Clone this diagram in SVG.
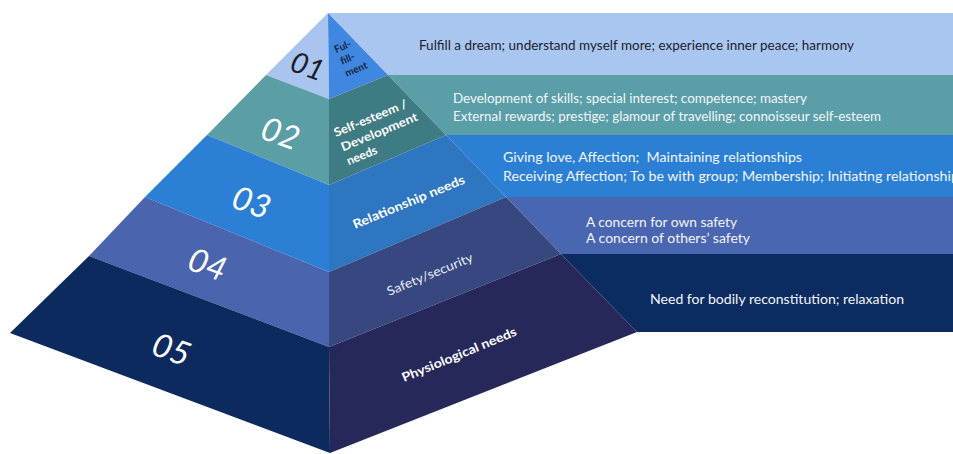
<svg xmlns="http://www.w3.org/2000/svg" width="953" height="454" viewBox="0 0 953 454">
<style>
  .num { font-family: Lato, "Open Sans", sans-serif; font-style: italic; font-weight: 400; text-anchor: middle; dominant-baseline: central; }
  .lbl { font-family: Lato, "Open Sans", sans-serif; font-weight: 700; fill: #ffffff; }
  .lblr { font-family: Lato, "Open Sans", sans-serif; font-weight: 400; fill: #e8ecf6; }
  .ban { font-family: Lato, "Open Sans", sans-serif; font-size: 13px; fill: #f2f5fa; }
  .dark { fill: #1b1d2b; }
</style>
<rect width="953" height="454" fill="#ffffff"/>

<g id="level1">
  <polygon points="328,13 953,13 953,75 388,75" fill="#a9c6f1"/>
  <polygon points="328,13 266,75 329,99" fill="#a9c5ef"/>
  <polygon points="328,13 388,75 329,99" fill="#3f87e0"/>
  <text class="num dark" font-size="29" transform="translate(308,65) rotate(20)">01</text>
  <g transform="translate(336,53) rotate(-22.5)" font-family="Lato, 'Open Sans', sans-serif" font-weight="700" font-size="10" fill="#1a2440">
    <text x="0" y="0">Ful-</text>
    <text x="1" y="13">fill-</text>
    <text x="1" y="26">ment</text>
  </g>
  <text class="ban dark" x="419" y="50" textLength="435" lengthAdjust="spacingAndGlyphs">Fulfill a dream; understand myself more; experience inner peace; harmony</text>
</g>

<g id="level2">
  <polygon points="388,75 953,75 953,135 446,135" fill="#5a9fa8"/>
  <polygon points="266,75 207,135 329,185 329,99" fill="#5b9ea6"/>
  <polygon points="388,75 446,135 329,185 329,99" fill="#3e7b82"/>
  <text class="num" fill="#ffffff" font-size="33" transform="translate(281,132) rotate(20)">02</text>
  <g transform="translate(336,137) rotate(-22.5)" class="lbl" font-size="12">
    <text x="0" y="0" textLength="78" lengthAdjust="spacingAndGlyphs">Self-esteem /</text>
    <text x="1" y="16" textLength="82" lengthAdjust="spacingAndGlyphs">Development</text>
    <text x="1" y="31">needs</text>
  </g>
  <text class="ban" x="453" y="103" textLength="354" lengthAdjust="spacingAndGlyphs">Development of skills; special interest; competence; mastery</text>
  <text class="ban" x="453" y="121" textLength="428" lengthAdjust="spacingAndGlyphs">External rewards; prestige; glamour of travelling; connoisseur self-esteem</text>
</g>

<g id="level3">
  <polygon points="446,135 953,135 953,197 506,197" fill="#2b80d6"/>
  <polygon points="207,135 145,197 329,272 329,185" fill="#2b7fd5"/>
  <polygon points="446,135 506,197 329,272 329,185" fill="#2e76bf"/>
  <text class="num" fill="#ffffff" font-size="33" transform="translate(252,201) rotate(20)">03</text>
  <text class="lbl" font-size="12.5" transform="translate(355,229) rotate(-22.5)" textLength="120" lengthAdjust="spacingAndGlyphs">Relationship needs</text>
  <text class="ban" x="503" y="162" textLength="299" lengthAdjust="spacingAndGlyphs" xml:space="preserve">Giving love, Affection;  Maintaining relationships</text>
  <text class="ban" x="503" y="181" textLength="462" lengthAdjust="spacingAndGlyphs">Receiving Affection; To be with group; Membership; Initiating relationships</text>
</g>

<g id="level4">
  <polygon points="506,197 953,197 953,254 561,254" fill="#4b66b0"/>
  <polygon points="145,197 89,256 329,347 329,272" fill="#4b64ae"/>
  <polygon points="506,197 561,254 329,347 329,272" fill="#36487f"/>
  <text class="num" fill="#ffffff" font-size="33" transform="translate(208,263) rotate(20)">04</text>
  <text class="lblr" font-size="12.5" transform="translate(389,296) rotate(-22.5)" textLength="92" lengthAdjust="spacingAndGlyphs">Safety/security</text>
  <text class="ban" x="586" y="227" textLength="151" lengthAdjust="spacingAndGlyphs">A concern for own safety</text>
  <text class="ban" x="586" y="243" textLength="164" lengthAdjust="spacingAndGlyphs">A concern of others’ safety</text>
</g>

<g id="level5">
  <polygon points="561,254 953,254 953,332 637,332" fill="#0c2c61"/>
  <polygon points="89,256 10,333 330,453 329,347" fill="#0c2a5e"/>
  <polygon points="561,254 637,332 330,453 329,347" fill="#27285a"/>
  <text class="num" fill="#ffffff" font-size="33" transform="translate(172,348) rotate(20)">05</text>
  <text class="lbl" font-size="12.5" transform="translate(404,382) rotate(-22.5)" textLength="123" lengthAdjust="spacingAndGlyphs">Physiological needs</text>
  <text class="ban" x="650" y="304" textLength="254" lengthAdjust="spacingAndGlyphs">Need for bodily reconstitution; relaxation</text>
</g>
</svg>
